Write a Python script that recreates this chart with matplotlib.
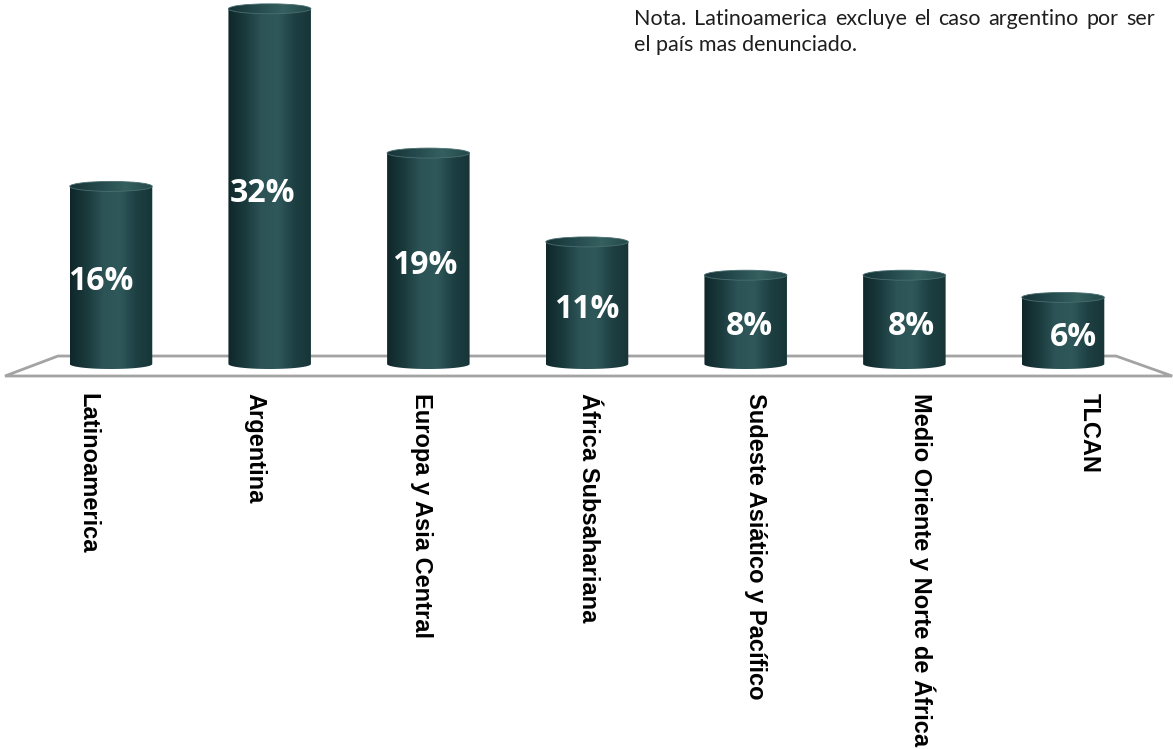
import numpy as np
import matplotlib
matplotlib.use("Agg")
import matplotlib.pyplot as plt
from matplotlib.patches import Polygon, Ellipse
from matplotlib.colors import LinearSegmentedColormap

# data
categories = [
    "Latinoamerica",
    "Argentina",
    "Europa y Asia Central",
    "África Subsahariana",
    "Sudeste Asiático y Pacífico",
    "Medio Oriente y Norte de África",
    "TLCAN",
]
values = [16, 32, 19, 11, 8, 8, 6]
value_labels = ["16%", "32%", "19%", "11%", "8%", "8%", "6%"]
note_lines = ["Nota. Latinoamerica excluye el caso argentino por ser",
              "el país mas denunciado."]

# cylinder look
side_cmap = LinearSegmentedColormap.from_list(
    "side", ["#10272a", "#1a3a3c", "#2c5356", "#2f585b", "#1e4043", "#173537"])
cap_cmap = LinearSegmentedColormap.from_list(
    "cap", ["#163336", "#24494c", "#35605f", "#24484b"])
bar_w = 0.52
cap_h = 0.45  # half height of the ellipse in % units

fig = plt.figure(figsize=(11.73, 7.49), dpi=100)
ax = fig.add_axes([0, 0, 1, 1])
ax.set_xlim(-0.6996, 6.693)
ax.set_ylim(-34.68, 32.79)
ax.axis("off")

n = len(categories)
xs = np.arange(n)

# floor (trapezoid seen in perspective)
back_pad, front_pad = 0.334, 0.668
floor = Polygon([(-front_pad, -1.08), (n - 1 + front_pad + 0.02, -1.08),
                 (n - 1 + back_pad, 0.72), (-back_pad, 0.72)],
                closed=True, facecolor="white", edgecolor="#a3a3a3",
                lw=2.0, zorder=1)
ax.add_patch(floor)

grad = np.linspace(0, 1, 256).reshape(1, -1)
t = np.linspace(np.pi, 2 * np.pi, 60)

for x, v in zip(xs, values):
    left, right = x - bar_w / 2, x + bar_w / 2
    bottom = np.column_stack([x + bar_w / 2 * np.cos(t), cap_h * np.sin(t)])
    pts = np.vstack([[left, v], bottom, [right, v]])
    body = Polygon(pts, closed=True, facecolor="none", edgecolor="none")
    ax.add_patch(body)
    im = ax.imshow(grad, cmap=side_cmap, extent=[left, right, -cap_h, v],
                   aspect="auto", zorder=2)
    im.set_clip_path(body)

    cap = Ellipse((x, v), bar_w, 2 * cap_h, facecolor="none", edgecolor="none")
    ax.add_patch(cap)
    imc = ax.imshow(grad, cmap=cap_cmap, extent=[left, right, v - cap_h, v + cap_h],
                    aspect="auto", zorder=3)
    imc.set_clip_path(cap)
    ax.add_patch(Ellipse((x, v), bar_w, 2 * cap_h, facecolor="none",
                         edgecolor="#4a6e70", lw=0.6, zorder=4))

# value labels
for i, (x, v) in enumerate(zip(xs, values)):
    ax.text(x + (i - 3) * 0.0215, v * 0.5 - 0.6, value_labels[i],
            color="white", fontsize=23, fontweight="bold", family="Open Sans",
            ha="center", va="center", zorder=5)

# category labels, shifted a bit outward like the perspective of the floor
for i, name in enumerate(categories):
    ax.text(i * 1.0515 - 0.145, -2.6, name, rotation=270, fontsize=17,
            fontweight="bold", family="Liberation Sans", color="black",
            ha="center", va="top")

# note, first line justified to the right edge
x0, x1 = 634 / 1173, 1155 / 1173
fig.canvas.draw()
renderer = fig.canvas.get_renderer()
words = note_lines[0].split()
word_txt = []
total = 0
for w in words:
    tt = fig.text(0, 0, w, fontsize=15.5, family="Lato", color="#1e1e1e")
    bb = tt.get_window_extent(renderer)
    word_txt.append((tt, bb.width / fig.bbox.width))
    total += bb.width / fig.bbox.width
gap = ((x1 - x0) - total) / (len(words) - 1)
xp = x0
for tt, wdt in word_txt:
    tt.set_position((xp, 1 - 25 / 749))
    xp += wdt + gap
fig.text(x0, 1 - 51 / 749, note_lines[1], fontsize=15.5, family="Lato",
         color="#1e1e1e")

fig.savefig("out.png", dpi=100)
